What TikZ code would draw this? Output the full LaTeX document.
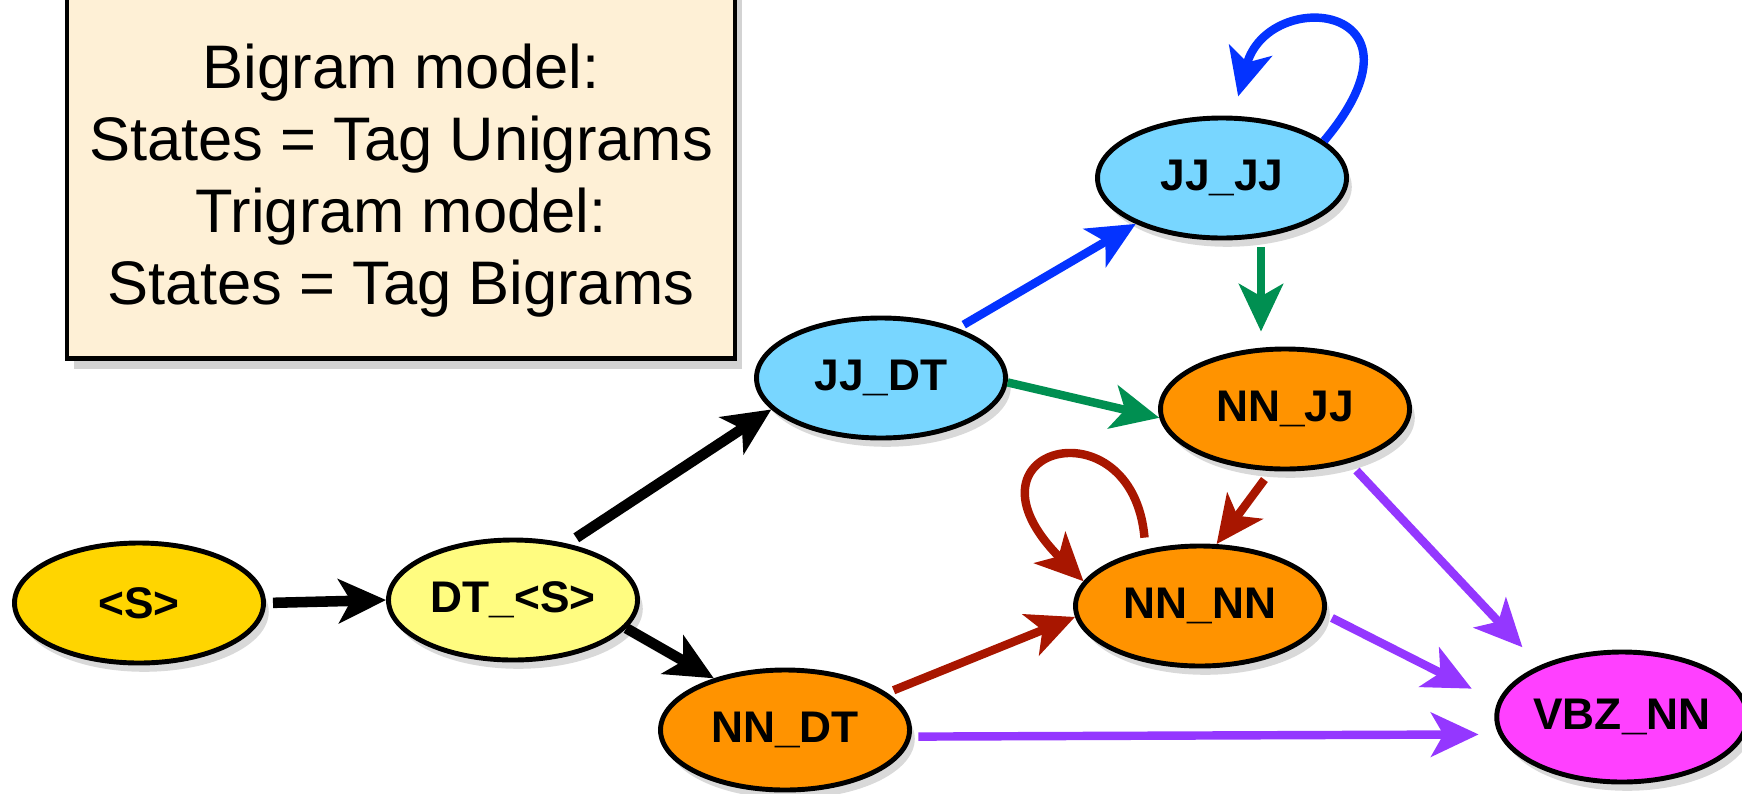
\documentclass[tikz,border=0pt]{standalone}
\usepackage{fontspec}
\setmainfont{Liberation Sans}
\usepackage{xcolor}
\definecolor{gold}{HTML}{FFD500}
\definecolor{paleyellow}{HTML}{FFFC80}
\definecolor{sky}{HTML}{78D6FF}
\definecolor{tangerine}{HTML}{FF9300}
\definecolor{fuchsia}{HTML}{FF40FF}
\definecolor{cream}{HTML}{FEF0D6}
\definecolor{royal}{HTML}{0433FF}
\definecolor{jade}{HTML}{008F51}
\definecolor{brick}{HTML}{A81600}
\definecolor{grape}{HTML}{9437FF}
\usepackage{tikz}
\usetikzlibrary{arrows.meta,shapes.geometric,shadows}
\tikzset{
  >={Stealth[length=13.5pt,width=12.5pt,inset=3.5pt]},
  tag/.style     ={ellipse,draw=black,line width=1.4pt,inner sep=0pt,
                   minimum width=2.49cm,minimum height=1.2cm,
                   font=\fontsize{12.6}{14}\selectfont\bfseries,
                   drop shadow={shadow xshift=1.5pt,shadow yshift=-2.5pt,opacity=0.3}},
  starttag/.style={tag,fill=gold},
  dttag/.style   ={tag,fill=paleyellow},
  jjtag/.style   ={tag,fill=sky},
  nntag/.style   ={tag,fill=tangerine},
  vbztag/.style  ={tag,fill=fuchsia,minimum width=2.42cm,minimum height=1.3cm},
  note/.style    ={draw=black,line width=1.4pt,fill=cream,align=center,
                   minimum width=6.68cm,minimum height=4cm,
                   font=\fontsize{17.5}{20.5}\selectfont,
                   drop shadow={shadow xshift=2pt,shadow yshift=-3pt,opacity=0.35}},
  blackflow/.style ={->,draw=black,line width=3pt},
  blueflow/.style  ={->,draw=royal,line width=2.4pt},
  greenflow/.style ={->,draw=jade,line width=2.4pt},
  redflow/.style   ={->,draw=brick,line width=2.4pt},
  purpleflow/.style={->,draw=grape,line width=2.4pt},
}
\begin{document}
\begin{tikzpicture}[x=1cm,y=1cm]
\useasboundingbox (0,0) rectangle (17.42,7.93);
%---------------- note
\node[note,anchor=south] (legend) at (4.01,4.32)
  {\rule{0pt}{0.88cm}Bigram model:\\ States = Tag Unigrams\\ Trigram model:\\ States = Tag Bigrams};
%---------------- states
\node[starttag] (s)    at (1.39,1.90)  {<S>};
\node[dttag]    (dts)  at (5.13,1.93)  {DT\_<S>};
\node[jjtag]    (jjdt) at (8.81,4.15)  {JJ\_DT};
\node[jjtag]    (jjjj) at (12.22,6.15) {JJ\_JJ};
\node[nntag]    (nnjj) at (12.85,3.84) {NN\_JJ};
\node[nntag]    (nnnn) at (12.00,1.87) {NN\_NN};
\node[nntag]    (nndt) at (7.85,0.63)  {NN\_DT};
\node[vbztag]   (vbz)  at (16.22,0.76) {VBZ\_NN};
%---------------- transitions
\draw[blackflow,shorten <=2pt] (s.east) -- (dts.west);
\draw[blackflow,shorten <=3pt] (dts.46) -- (jjdt.196);
\draw[blackflow] (dts.-14) -- (nndt.144);
\draw[blueflow,shorten <=2pt] (jjdt.33) -- (jjjj.208);
\draw[blueflow,shorten >=0.2cm] (jjjj.20) .. controls +(50:1.8) and +(75:1.35) .. (jjjj.80);
\draw[greenflow,shorten <=2pt,shorten >=0.15cm] ([xshift=0.39cm]jjjj.south) -- ([xshift=0.39cm]jjjj.south |- nnjj.north);
\draw[greenflow] (jjdt.-2) -- (nnjj.184);
\draw[redflow,shorten <=3pt] (nnjj.-103) -- (nnnn.75);
\draw[redflow,shorten <=0.12cm] (nnnn.134) .. controls +(95:1.5) and +(135:1.9) .. (nnnn.168);
\draw[redflow,shorten <=2pt] (nndt.20) -- (nnnn.185);
\draw[purpleflow,shorten <=3pt,shorten >=0.25cm] (nnjj.-40) -- (vbz.148);
\draw[purpleflow,shorten <=2pt,shorten >=0.29cm] (nnnn.-4) -- (vbz.173);
\draw[purpleflow,shorten <=2pt,shorten >=0.2cm] (nndt.-3) -- (vbz.188);
\end{tikzpicture}
\end{document}
